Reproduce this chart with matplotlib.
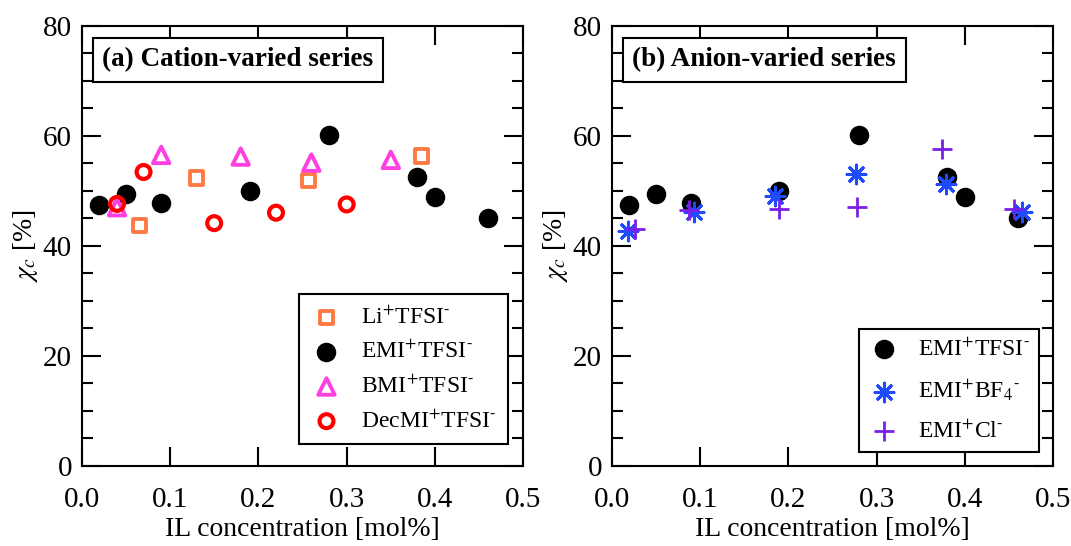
import matplotlib
matplotlib.use("Agg")
import matplotlib.pyplot as plt
from matplotlib.ticker import MultipleLocator, FormatStrFormatter

plt.rcParams['font.family'] = ['Liberation Serif', 'DejaVu Serif']
plt.rcParams['mathtext.fontset'] = 'stix'

# panel (a): cation-varied series
li_x = [0.065, 0.13, 0.257, 0.385]
li_y = [43.6, 52.3, 51.8, 56.3]

emi_x = [0.02, 0.05, 0.09, 0.19, 0.28, 0.38, 0.40, 0.46]
emi_y = [47.4, 49.4, 47.7, 49.9, 60.2, 52.5, 48.8, 45.1]

bmi_x = [0.04, 0.09, 0.18, 0.26, 0.35]
bmi_y = [47.0, 56.5, 56.2, 55.1, 55.6]

dec_x = [0.04, 0.07, 0.15, 0.22, 0.30]
dec_y = [47.6, 53.4, 44.1, 46.0, 47.5]

# panel (b): anion-varied series
bf4_x = [0.019, 0.093, 0.185, 0.277, 0.379, 0.465]
bf4_y = [42.7, 46.1, 49.1, 53.0, 51.2, 46.1]

cl_x = [0.026, 0.088, 0.189, 0.278, 0.374, 0.456]
cl_y = [43.0, 46.5, 46.7, 47.1, 57.6, 46.7]

x_ticks = [0.0, 0.1, 0.2, 0.3, 0.4, 0.5]
y_ticks = [0, 20, 40, 60, 80]

fig = plt.figure(figsize=(10.71, 5.46), dpi=100)
ax1 = fig.add_axes([0.0763, 0.147, 0.4123, 0.806])
ax2 = fig.add_axes([0.5711, 0.147, 0.4124, 0.806])

SUP_M = r'$^{\text{-}}$'


def style_axis(ax):
    ax.set_xlim(0, 0.5)
    ax.set_ylim(0, 80)
    ax.set_xticks(x_ticks)
    ax.set_yticks(y_ticks)
    ax.xaxis.set_major_formatter(FormatStrFormatter('%.1f'))
    ax.yaxis.set_minor_locator(MultipleLocator(5))
    ax.tick_params(which='major', direction='in', length=14, width=1.5,
                   top=True, right=True, labelsize=21, pad=7)
    ax.tick_params(axis='x', which='major', pad=15)
    ax.tick_params(which='minor', direction='in', length=8, width=1.5,
                   top=False, right=True)
    ax.tick_params(axis='x', which='minor', bottom=False, top=False)
    for s in ax.spines.values():
        s.set_linewidth(1.5)
    ax.set_xlabel('IL concentration [mol%]', fontsize=20, labelpad=3)
    ax.set_ylabel(r'$\chi_c$ [%]', fontsize=20, labelpad=2)


def style_legend(leg):
    leg.get_frame().set_linewidth(1.5)
    leg.get_frame().set_alpha(1)


ax1.scatter(li_x, li_y, marker='s', s=90, facecolors='none', edgecolors='#FF7A45',
            linewidths=2.8, label=r'Li$^{+}$TFSI' + SUP_M, zorder=3)
ax1.scatter(emi_x, emi_y, marker='o', s=170, color='black',
            label=r'EMI$^{+}$TFSI' + SUP_M, zorder=3)
ax1.scatter(bmi_x, bmi_y, marker='^', s=140, facecolors='none', edgecolors='#FF40E0',
            linewidths=2.8, label=r'BMI$^{+}$TFSI' + SUP_M, zorder=3)
ax1.scatter(dec_x, dec_y, marker='o', s=100, facecolors='none', edgecolors='#FF0000',
            linewidths=3, label=r'DecMI$^{+}$TFSI' + SUP_M, zorder=4)
style_axis(ax1)
leg1 = ax1.legend(loc='lower right', bbox_to_anchor=(0.965, 0.049), fontsize=17,
                  frameon=True, fancybox=False, edgecolor='black', handletextpad=0.8,
                  labelspacing=0.52, borderpad=0.5, handlelength=1.3, borderaxespad=0)
style_legend(leg1)
ax1.text(0.047, 0.951, '(a) Cation-varied series', transform=ax1.transAxes,
         fontsize=19.5, fontweight='bold', va='top', ha='left',
         bbox=dict(boxstyle='square,pad=0.35', facecolor='white', edgecolor='black', linewidth=1.5))

ax2.scatter(emi_x, emi_y, marker='o', s=170, color='black',
            label=r'EMI$^{+}$TFSI' + SUP_M, zorder=3)
ax2.scatter(bf4_x, bf4_y, marker=(8, 2, 0), s=180, color='#1F4BFF', linewidths=2.2,
            label=r'EMI$^{+}$BF$_4$' + SUP_M, zorder=4)
ax2.scatter(cl_x, cl_y, marker='+', s=220, color='#7A1FE8', linewidths=2,
            label=r'EMI$^{+}$Cl' + SUP_M, zorder=4)
style_axis(ax2)
leg2 = ax2.legend(loc='lower right', bbox_to_anchor=(0.968, 0.031), fontsize=17,
                  frameon=True, fancybox=False, edgecolor='black', handletextpad=0.8,
                  labelspacing=0.72, borderpad=0.4, handlelength=1.3, borderaxespad=0)
style_legend(leg2)
ax2.text(0.047, 0.951, '(b) Anion-varied series', transform=ax2.transAxes,
         fontsize=19.5, fontweight='bold', va='top', ha='left',
         bbox=dict(boxstyle='square,pad=0.35', facecolor='white', edgecolor='black', linewidth=1.5))

fig.savefig('out.png', dpi=100)
